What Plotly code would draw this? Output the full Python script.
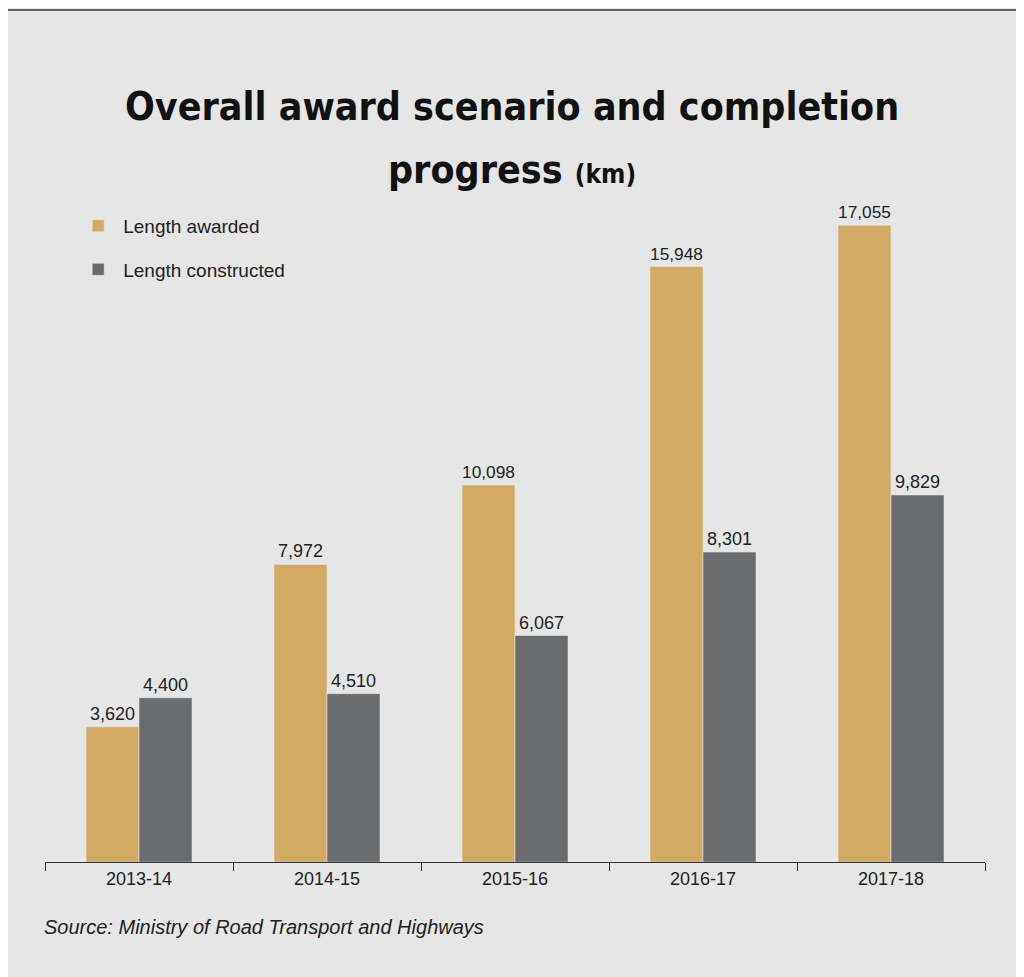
import plotly.graph_objects as go

years = ["2013-14", "2014-15", "2015-16", "2016-17", "2017-18"]
awarded = [3620, 7972, 10098, 15948, 17055]
constructed = [4400, 4510, 6067, 8301, 9829]

bg = "#e6e6e6"
fig = go.Figure()
fig.add_bar(x=years, y=awarded, name="Length awarded", marker_color="#d3aa64",
            text=[f"{v:,}" for v in awarded], textposition="outside",
            textfont=dict(size=18, color="#222"), cliponaxis=False, legendgroup="a")
fig.add_bar(x=years, y=constructed, name="Length constructed", marker_color="#6b6c6e",
            text=[f"{v:,}" for v in constructed], textposition="outside",
            textfont=dict(size=18, color="#222"), cliponaxis=False, legendgroup="b")

tfont = "DejaVu Sans Condensed, DejaVu Sans"
fig.update_layout(
    width=1008, height=969, paper_bgcolor=bg, plot_bgcolor=bg,
    margin=dict(l=37, r=31, t=182, b=115),
    barmode="group", bargap=0.436, bargroupgap=0,
    font=dict(family="Liberation Sans, Arial", color="#222"),
    showlegend=True,
    legend=dict(x=0.03, y=0.975, xanchor="left", yanchor="top", bgcolor="rgba(0,0,0,0)",
                font=dict(size=19), traceorder="grouped", tracegroupgap=16,
                itemwidth=40),
    xaxis=dict(showline=True, linecolor="#333", linewidth=1, ticks="outside",
               tickson="boundaries", ticklen=8, tickcolor="#333",
               tickfont=dict(size=18, color="#222")),
    yaxis=dict(range=[0, 18000], visible=False, showgrid=False),
    annotations=[
        dict(text="<b>Overall award scenario and completion</b>", x=0.4968, y=1.1607,
             xref="paper", yref="paper", showarrow=False,
             font=dict(family=tfont, size=39, color="#111")),
        dict(text="<b>progress <span style='font-size:26px'>(km)</span></b>", x=0.4968, y=1.067,
             xref="paper", yref="paper", showarrow=False,
             font=dict(family=tfont, size=39, color="#111")),
        dict(text="<i>Source: Ministry of Road Transport and Highways</i>", x=-0.003, y=-0.116,
             xref="paper", yref="paper", xanchor="left", showarrow=False,
             font=dict(size=20, color="#222")),
    ],
    shapes=[dict(type="line", xref="paper", yref="paper", x0=-0.04, x1=1.033,
                 y0=1.268, y1=1.268, line=dict(color="#333", width=1.5))],
)
fig.write_html("out.html")
